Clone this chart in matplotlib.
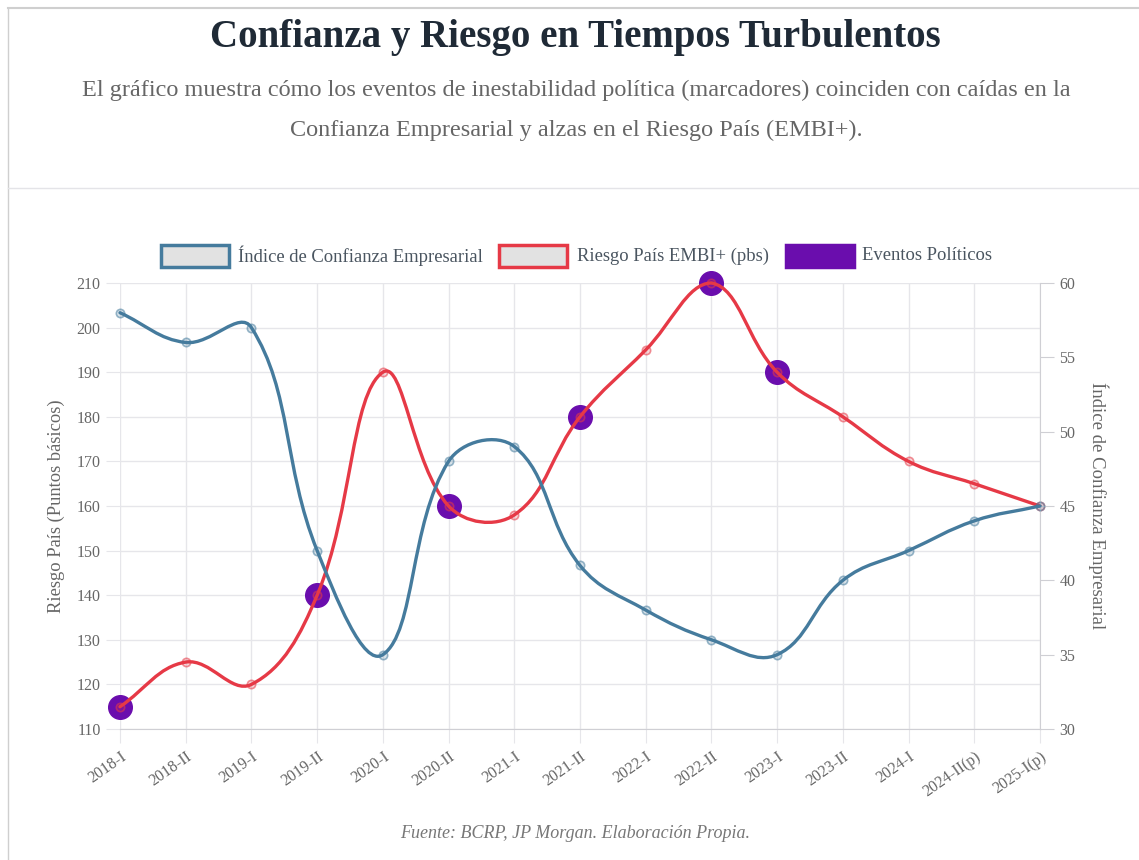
import numpy as np
import matplotlib
matplotlib.use("Agg")
import matplotlib.pyplot as plt
from matplotlib.path import Path
from matplotlib.patches import PathPatch, Rectangle
from matplotlib.lines import Line2D

# datos
periodos = ["2018-I", "2018-II", "2019-I", "2019-II", "2020-I", "2020-II", "2021-I",
            "2021-II", "2022-I", "2022-II", "2023-I", "2023-II", "2024-I",
            "2024-II(p)", "2025-I(p)"]
confianza = [58, 56, 57, 42, 35, 48, 49, 41, 38, 36, 35, 40, 42, 44, 45]
riesgo = [115, 125, 120, 140, 190, 160, 158, 180, 195, 210, 190, 180, 170, 165, 160]
eventos = ["2018-I", "2019-II", "2020-II", "2021-II", "2022-II", "2023-I"]

azul = "#457b9d"
rojo = "#e63946"
morado = "#6a0dad"
gris_txt = "#666666"
grid_c = "#e6e6ea"

plt.rcParams["font.family"] = ["Liberation Serif", "DejaVu Serif"]

W, H = 1139, 860
fig = plt.figure(figsize=(W / 100, H / 100), dpi=100)


def fx(px):
    return px / W


def fy(py):
    return 1 - py / H


# marco
fig.add_artist(Line2D([fx(8), fx(1139)], [fy(8), fy(8)], color="#cfcfcf", lw=1.5))
fig.add_artist(Line2D([fx(8), fx(8)], [fy(8), fy(860)], color="#cfcfcf", lw=1.0))
fig.add_artist(Line2D([fx(8), fx(1139)], [fy(188), fy(188)], color="#e4e4e8", lw=1.0))

fig.text(fx(575), fy(38), "Confianza y Riesgo en Tiempos Turbulentos", ha="center", va="center",
         fontsize=28, fontweight="bold", color="#1f2a36")
fig.text(fx(576), fy(90), "El gráfico muestra cómo los eventos de inestabilidad política (marcadores) coinciden con caídas en la",
         ha="center", va="center", fontsize=17.5, color=gris_txt)
fig.text(fx(576), fy(130), "Confianza Empresarial y alzas en el Riesgo País (EMBI+).",
         ha="center", va="center", fontsize=17.5, color=gris_txt)

ax = fig.add_axes([fx(120), fy(729), fx(1040) - fx(120), fy(283) - fy(729)])
ax2 = ax.twinx()

x = np.arange(len(periodos))
ax.set_xlim(0, len(periodos) - 1)
ax.set_ylim(110, 210)
ax2.set_ylim(30, 60)
ax.set_yticks(np.arange(110, 211, 10))
ax2.set_yticks(np.arange(30, 61, 5))
ax.set_xticks(x)
ax.set_xticklabels(periodos, rotation=35, ha="right", rotation_mode="anchor")

ax.grid(True, color=grid_c, lw=1)
ax.set_axisbelow(True)
for a in (ax, ax2):
    for s in a.spines.values():
        s.set_visible(False)
ax.spines["bottom"].set_visible(True)
ax.spines["bottom"].set_color("#cfcfd4")
ax2.spines["right"].set_visible(True)
ax2.spines["right"].set_color("#cfcfd4")
ax.tick_params(axis="both", colors=grid_c, labelcolor=gris_txt, labelsize=11.5, length=10, pad=4)
ax2.tick_params(axis="y", colors="#cfcfd4", labelcolor=gris_txt, labelsize=11.5, length=10, pad=4)

ax.set_ylabel("Riesgo País (Puntos básicos)", fontsize=13.3, color=gris_txt, labelpad=8)
ax2.set_ylabel("Índice de Confianza Empresarial", fontsize=13.5, color=gris_txt, rotation=-90, labelpad=24)


def curva(a, xs, ys, color, t=0.4):
    pts = a.transData.transform(np.column_stack([xs, ys]))
    n = len(pts)
    cprev = pts.copy()
    cnext = pts.copy()
    for i in range(n):
        cur = pts[i]
        prev = pts[i - 1] if i > 0 else cur
        nxt = pts[i + 1] if i < n - 1 else cur
        d01 = np.hypot(*(cur - prev))
        d12 = np.hypot(*(nxt - cur))
        tot = d01 + d12
        s01 = d01 / tot if tot else 0
        s12 = d12 / tot if tot else 0
        cprev[i] = cur - t * s01 * (nxt - prev)
        cnext[i] = cur + t * s12 * (nxt - prev)
    bb = a.bbox
    for c in (cprev, cnext):
        c[:, 0] = np.clip(c[:, 0], bb.x0, bb.x1)
        c[:, 1] = np.clip(c[:, 1], bb.y0, bb.y1)
    verts = [pts[0]]
    codes = [Path.MOVETO]
    for i in range(1, n):
        verts += [cnext[i - 1], cprev[i], pts[i]]
        codes += [Path.CURVE4] * 3
    verts = a.transData.inverted().transform(np.array(verts))
    a.add_patch(PathPatch(Path(verts, codes), fill=False, edgecolor=color, lw=2.4,
                          capstyle="round", joinstyle="round", zorder=3, clip_on=False))
    a.plot(xs, ys, "o", ms=6, mfc=matplotlib.colors.to_rgba(color, 0.2),
           mec=matplotlib.colors.to_rgba(color, 0.55), mew=1.2, zorder=4, clip_on=False)


ix = [periodos.index(e) for e in eventos]
ax.plot(ix, [riesgo[i] for i in ix], "o", ms=17, color=morado, zorder=2, clip_on=False)
curva(ax, x, riesgo, rojo)
curva(ax2, x, confianza, azul)

# leyenda
def caja(x0, fc, ec):
    fig.add_artist(Rectangle((fx(x0), fy(267)), fx(68), 22 / H, facecolor=fc, edgecolor=ec, lw=2.5,
                             transform=fig.transFigure))


caja(161, "#e2e2e2", azul)
fig.text(fx(238), fy(256), "Índice de Confianza Empresarial", va="center", fontsize=13.4, color="#4a5560")
caja(499, "#e2e2e2", rojo)
fig.text(fx(577), fy(256), "Riesgo País EMBI+ (pbs)", va="center", fontsize=13.4, color="#4a5560")
caja(786, morado, morado)
fig.text(fx(862), fy(256), "Eventos Políticos", va="center", fontsize=13.4, color="#4a5560")

fig.text(fx(575), fy(833), "Fuente: BCRP, JP Morgan. Elaboración Propia.", ha="center", va="center",
         fontsize=13, style="italic", color="#777777")

fig.savefig("out.png", dpi=100)
